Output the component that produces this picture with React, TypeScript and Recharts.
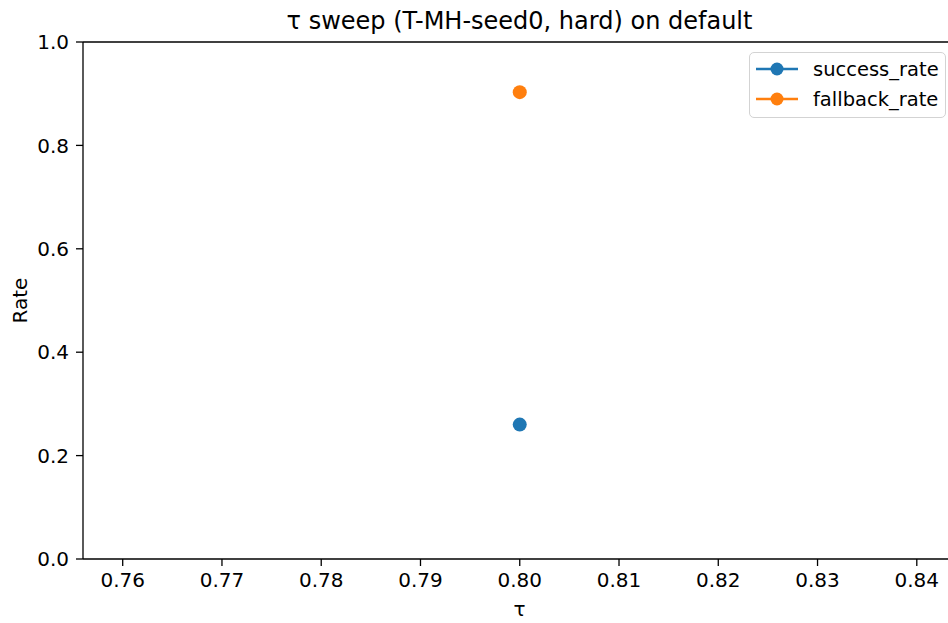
import { LineChart, Line, XAxis, YAxis, ReferenceLine } from "recharts";

const tauValues = [0.8];
const successRate = [0.26];
const fallbackRate = [0.903];
const xTicks = [0.76, 0.77, 0.78, 0.79, 0.8, 0.81, 0.82, 0.83, 0.84];
const yTicks = [0, 0.2, 0.4, 0.6, 0.8, 1.0];

const series = [
  { key: "success_rate", color: "#1f77b4" },
  { key: "fallback_rate", color: "#ff7f0e" },
];

const data = tauValues.map((tau, i) => ({
  tau,
  success_rate: successRate[i],
  fallback_rate: fallbackRate[i],
}));

const FONT = "DejaVu Sans, sans-serif";

const LegendBox = () => (
  <div
    style={{
      position: "absolute",
      left: 749,
      top: 52,
      boxSizing: "border-box",
      width: 197,
      height: 66,
      border: "1px solid #d3d3d3",
      borderRadius: 5,
      background: "rgba(255,255,255,0.8)",
      padding: "1px 0 3px 6px",
      fontFamily: FONT,
      fontSize: 19.5,
      color: "#000",
    }}
  >
    {series.map((s) => (
      <div key={s.key} style={{ height: 30, display: "flex", alignItems: "center" }}>
        <svg width={42} height={16} style={{ marginRight: 15 }}>
          <line x1={0} y1={8} x2={42} y2={8} stroke={s.color} strokeWidth={2.5} />
          <circle cx={21} cy={8} r={6.5} fill={s.color} />
        </svg>
        <span>{s.key}</span>
      </div>
    ))}
  </div>
);

export default function App() {
  return (
    <div
      style={{
        position: "absolute",
        left: 0,
        top: 0,
        width: 948,
        height: 623,
        overflow: "hidden",
        background: "#fff",
        fontFamily: FONT,
      }}
    >
      <div
        style={{
          position: "absolute",
          left: 519.5,
          top: 6,
          transform: "translateX(-50%)",
          whiteSpace: "nowrap",
          fontSize: 24,
          lineHeight: "30px",
          color: "#000",
        }}
      >
        τ sweep (T-MH-seed0, hard) on default
      </div>
      <LineChart
        width={960}
        height={623}
        data={data}
        margin={{ top: 42, right: 3.5, left: 0, bottom: 0 }}
        style={{ position: "absolute", left: 0, top: 0 }}
      >
        <XAxis
          dataKey="tau"
          type="number"
          domain={[0.756, 0.844]}
          ticks={xTicks}
          allowDataOverflow
          height={64}
          tickFormatter={(v: number) => v.toFixed(2)}
          tick={{ fill: "#000", fontSize: 20, fontFamily: FONT }}
          tickSize={7}
          tickMargin={7}
          stroke="#000"
          strokeWidth={1.3}
          label={{
            content: () => (
              <text x={519.5} y={616} textAnchor="middle" fontSize={20} fontFamily={FONT} fill="#000">
                τ
              </text>
            ),
          }}
        />
        <YAxis
          type="number"
          domain={[0, 1]}
          ticks={yTicks}
          width={83}
          tickFormatter={(v: number) => v.toFixed(1)}
          tick={{ fill: "#000", fontSize: 20, fontFamily: FONT }}
          tickSize={7}
          tickMargin={7}
          stroke="#000"
          strokeWidth={1.3}
          label={{
            content: () => (
              <text
                x={27}
                y={300.5}
                textAnchor="middle"
                fontSize={20}
                fontFamily={FONT}
                fill="#000"
                transform="rotate(-90 27 300.5)"
              >
                Rate
              </text>
            ),
          }}
        />
        <ReferenceLine y={1} stroke="#000" strokeWidth={1.3} ifOverflow="visible" />
        <ReferenceLine x={0.844} stroke="#000" strokeWidth={1.3} ifOverflow="visible" />
        {series.map((s) => (
          <Line
            key={s.key}
            dataKey={s.key}
            stroke={s.color}
            strokeWidth={2.5}
            dot={{ r: 7, fill: s.color, stroke: "none" }}
            activeDot={false}
            isAnimationActive={false}
          />
        ))}
      </LineChart>
      <LegendBox />
    </div>
  );
}
